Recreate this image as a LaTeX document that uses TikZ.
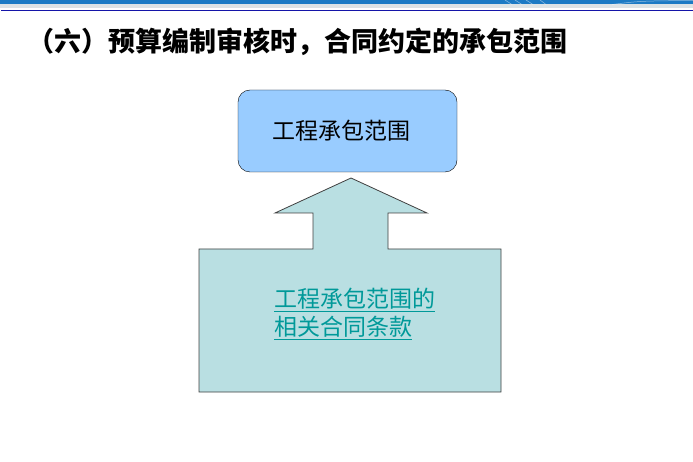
\documentclass[tikz,border=0pt]{standalone}
\usepackage{fontspec}
\newfontfamily\cjk{Noto Sans CJK SC}
\definecolor{boxblue}{HTML}{99CCFF}
\definecolor{boxteal}{HTML}{B9DFE2}
\definecolor{linkteal}{HTML}{009999}
\definecolor{barblue}{HTML}{1C7AC4}
\definecolor{bargrey}{HTML}{DDE3E5}
\definecolor{rulenavy}{HTML}{1414A8}
\begin{document}
\begin{tikzpicture}[x=1pt,y=-1pt,
    scopebox/.style={draw, rounded corners=12pt, fill=boxblue, minimum width=219pt, minimum height=82pt,
      font=\cjk\fontsize{23}{28}\selectfont},
    clausetext/.style={inner sep=0pt, align=left, text=linkteal, font=\cjk\fontsize{23}{28}\selectfont}]
    \useasboundingbox (0,0) rectangle (693,462);
    % header bars
    \fill [barblue] (0,0) rectangle (693,4.5);
    \fill [bargrey] (0,4.5) rectangle (693,8);
    \draw [white, opacity=0.5, line width=0.5pt] (505,0) -- (512,4.5) (515,0) -- (522,4.5) (526,0) -- (533,4.5)
    (540,0) -- (546,4.5) (612,4.5) .. controls (640,1) .. (693,0.5);
    \draw [rulenavy, line width=1pt] (1,10.5) -- (693,10.5);
    \node [anchor=west, inner sep=0pt, font=\cjk\bfseries\fontsize{27}{30}\selectfont] (title) at (27,42)
    {（六）预算编制审核时，合同约定的承包范围};
    \node [scopebox] (scope) at (347.5,131) {\hspace{-12pt}工程承包范围};
    \draw [fill=boxteal, draw=black!75, line width=0.8pt] (199,249) -- (313,249) -- (313,213) -- (275,213) --
    (351,178) -- (427,213) -- (388,213) -- (388,249) -- (501,249) -- (501,392) -- (199,392) -- cycle;
    \node [clausetext, anchor=north west] (clause) at (274,288) {\underline{工程承包范围的}\\\underline{相关合同条款}};
  \end{tikzpicture}
\end{document}
